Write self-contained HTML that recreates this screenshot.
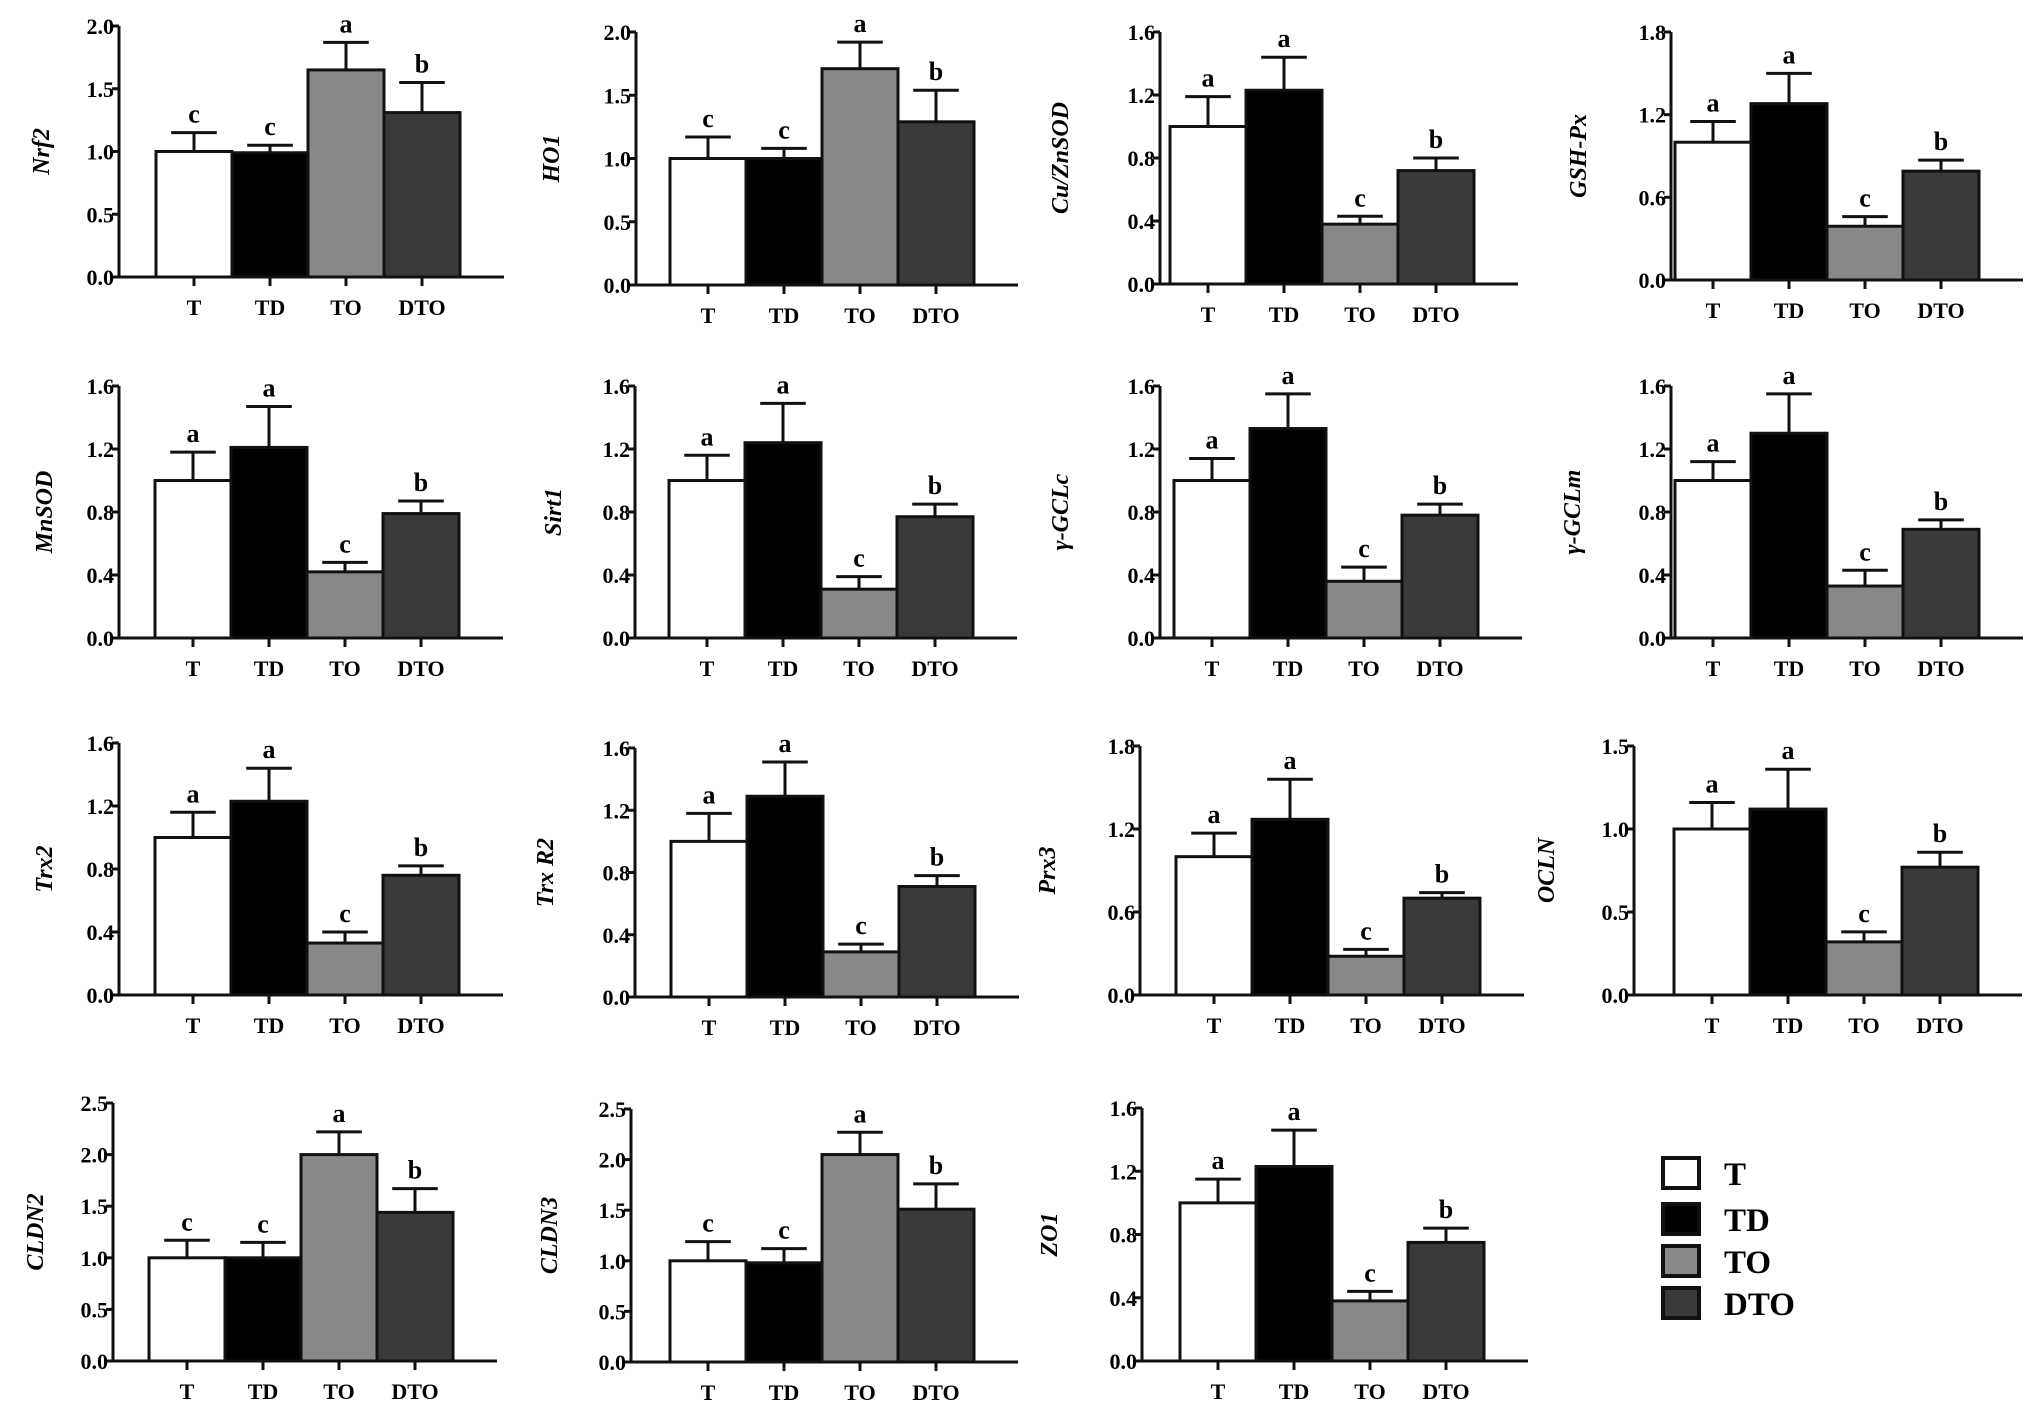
<!DOCTYPE html>
<html><head><meta charset="utf-8"><style>
html,body{margin:0;padding:0;background:#fff;}
svg{display:block;font-family:"Liberation Serif",serif;font-weight:bold;}
</style></head><body>
<svg id="fig" width="2031" height="1409" viewBox="0 0 2031 1409"></svg>
<script>
const categories = ["T","TD","TO","DTO"];
const fills = ["#ffffff","#000000","#888888","#3a3a3a"];
const titles = ["Nrf2","HO1","Cu/ZnSOD","GSH-Px","MnSOD","Sirt1","γ-GCLc","γ-GCLm","Trx2","Trx R2","Prx3","OCLN","CLDN2","CLDN3","ZO1"];
const means = [
 [1.0,0.99,1.65,1.31],[1.0,1.0,1.71,1.29],[1.0,1.23,0.38,0.72],[1.0,1.28,0.39,0.79],
 [1.0,1.21,0.42,0.79],[1.0,1.24,0.31,0.77],[1.0,1.33,0.36,0.78],[1.0,1.30,0.33,0.69],
 [1.0,1.23,0.33,0.76],[1.0,1.29,0.29,0.71],[1.0,1.27,0.28,0.70],[1.0,1.12,0.32,0.77],
 [1.0,1.0,2.0,1.44],[1.0,0.98,2.05,1.51],[1.0,1.23,0.38,0.75]];
const errors = [
 [0.15,0.06,0.22,0.24],[0.17,0.08,0.21,0.25],[0.19,0.21,0.05,0.08],[0.15,0.22,0.07,0.08],
 [0.18,0.26,0.06,0.08],[0.16,0.25,0.08,0.08],[0.14,0.22,0.09,0.07],[0.12,0.25,0.10,0.06],
 [0.16,0.21,0.07,0.06],[0.18,0.22,0.05,0.07],[0.17,0.29,0.05,0.04],[0.16,0.24,0.06,0.09],
 [0.17,0.15,0.22,0.23],[0.19,0.14,0.22,0.25],[0.15,0.23,0.06,0.09]];
const letters = [
 ["c","c","a","b"],["c","c","a","b"],["a","a","c","b"],["a","a","c","b"],
 ["a","a","c","b"],["a","a","c","b"],["a","a","c","b"],["a","a","c","b"],
 ["a","a","c","b"],["a","a","c","b"],["a","a","c","b"],["a","a","c","b"],
 ["c","c","a","b"],["c","c","a","b"],["a","a","c","b"]];
const yMax = [2.0,2.0,1.6,1.8,1.6,1.6,1.6,1.6,1.6,1.6,1.8,1.5,2.5,2.5,1.6];
const yStep = [0.5,0.5,0.4,0.6,0.4,0.4,0.4,0.4,0.4,0.4,0.6,0.5,0.5,0.5,0.4];
const tickDecimals = 1;
const legendLabels = ["T","TD","TO","DTO"];

// layout: axisX, topY, zeroY, first bar offset, title offset
const layout = [
 [119,26,277,37,70],[636,32,285,34,77],[1160,32,284,10,92],[1671,32,280,4,85],
 [119,386,638,36,67],[635,386,638,34,74],[1160,386,638,14,92],[1671,386,638,4,91],
 [119,743,995,36,67],[635,748,997,36,82],[1140,746,995,36,85],[1634,746,995,40,80],
 [113,1103,1361,36,70],[631,1109,1362,39,74],[1142,1108,1361,38,85]];
const BW = 76, AXEND = 52;
const svg = document.getElementById('fig');
const NS = "http://www.w3.org/2000/svg";
function mk(tag, attrs, parent){const e=document.createElementNS(NS,tag);for(const k in attrs)e.setAttribute(k,attrs[k]);(parent||svg).appendChild(e);return e;}

titles.forEach((title,p)=>{
  const [ax,top,zero,off,toff]=layout[p];
  const g = mk('g',{});
  
  
  const ys = v => zero - v/yMax[p]*(zero-top);
  const x0 = ax+off;
  const xEnd = x0 + 4*BW + AXEND - 8;
  categories.forEach((c,i)=>{
    const bx = x0 + i*BW, m = means[p][i], e = errors[p][i];
    const cx = bx + BW/2;
    const r = mk('rect',{x:bx,y:ys(m),width:BW,height:zero-ys(m),fill:fills[i],stroke:'#111','stroke-width':3},g);
    
    
    const eb = mk('path',{d:`M${cx} ${ys(m)}V${ys(m+e)}M${cx-BW*0.3} ${ys(m+e)}H${cx+BW*0.3}`,stroke:'#111','stroke-width':3,fill:'none'},g);
    
    
    const lt = mk('text',{x:cx,y:ys(m+e)-10,'text-anchor':'middle','font-size':26},g);
    lt.textContent = letters[p][i];
    
    
    mk('line',{x1:cx,x2:cx,y1:zero,y2:zero+9,stroke:'#111','stroke-width':3},g);
    const cl = mk('text',{x:cx,y:zero+38,'text-anchor':'middle','font-size':22},g);
    cl.textContent = c;
    
    
  });
  const axl = mk('path',{d:`M${ax} ${top}V${zero}H${xEnd}`,stroke:'#111','stroke-width':3,fill:'none'},g);
  
  
  const n = Math.round(yMax[p]/yStep[p]);
  for(let k=0;k<=n;k++){
    const v=k*yStep[p], y=ys(v);
    mk('line',{x1:ax-7,x2:ax,y1:y,y2:y,stroke:'#111','stroke-width':3},g);
    const t = mk('text',{x:ax-5,y:y+8,'text-anchor':'end','font-size':22},g);
    t.textContent = v.toFixed(tickDecimals);
    
    
  }
  const ty=(top+zero)/2, tx=ax-toff;
  const yt = mk('text',{x:tx,y:ty,'text-anchor':'middle','font-size':24,'font-style':'italic',transform:`rotate(-90 ${tx} ${ty})`},g);
  yt.textContent = title;
  
  
});

const lg = mk('g',{});


const legY = [1173,1219,1261,1303];
legendLabels.forEach((l,i)=>{
  const r = mk('rect',{x:1663,y:legY[i]-15,width:36,height:30,fill:fills[i],stroke:'#111','stroke-width':4},lg);
  
  
  const t = mk('text',{x:1724,y:legY[i]+12,'font-size':33},lg);
  t.textContent = l;
  
  
});
</script>
</body></html>
